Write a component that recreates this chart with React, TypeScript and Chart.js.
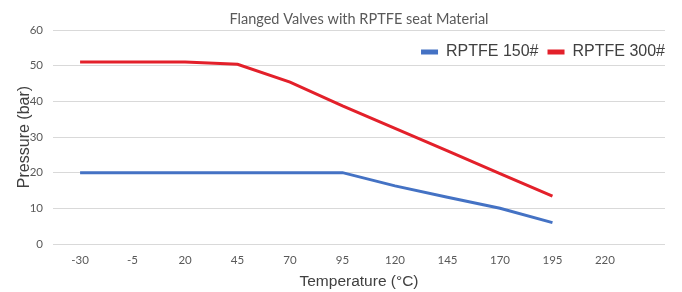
import React, { useEffect, useRef } from "react";
import { Chart, registerables } from "chart.js";

Chart.register(...registerables);

const temperatures = [-30, -5, 20, 45, 70, 95, 120, 145, 170, 195];
const xTickValues = [-30, -5, 20, 45, 70, 95, 120, 145, 170, 195, 220];
const yTickValues = [0, 10, 20, 30, 40, 50, 60];
const rptfe150 = [20, 20, 20, 20, 20, 20, 16.3, 13.1, 10, 6];
const rptfe300 = [51, 51, 51, 50.4, 45.4, 38.7, 32.4, 26.1, 19.7, 13.4];
const seriesLabels = ["RPTFE 150#", "RPTFE 300#"];
const seriesColors = ["#4472C4", "#E3202A"];

const legendPlugin = {
  id: "customLegend",
  afterDraw(chart: any) {
    const { ctx, chartArea } = chart;
    ctx.save();
    ctx.font = "16px 'Liberation Sans', Arial, sans-serif";
    ctx.textBaseline = "middle";
    ctx.textAlign = "left";
    const boxW = 17;
    const boxH = 5;
    const gap = 8;
    const itemPad = 9;
    const cy = 52;
    const items = chart.data.datasets.map((d: any) => ({
      label: d.label,
      color: d.borderColor,
      w: boxW + gap + ctx.measureText(d.label).width,
    }));
    const total = items.reduce((s: number, it: any) => s + it.w, 0) + itemPad * (items.length - 1);
    let x = chartArea.right - total;
    for (const it of items) {
      ctx.fillStyle = it.color;
      ctx.fillRect(x, cy - boxH / 2, boxW, boxH);
      ctx.fillStyle = "#404040";
      ctx.fillText(it.label, x + boxW + gap, cy);
      x += it.w + itemPad;
    }
    ctx.restore();
  },
};

export default function App() {
  const ref = useRef<HTMLCanvasElement | null>(null);
  useEffect(() => {
    document.body.style.margin = "0";
    if (!ref.current) return;
    const chart = new Chart(ref.current, {
      type: "line",
      data: {
        datasets: [
          {
            label: seriesLabels[0],
            data: temperatures.map((t, i) => ({ x: t, y: rptfe150[i] })),
            borderColor: seriesColors[0],
            backgroundColor: seriesColors[0],
            borderWidth: 3,
            pointRadius: 0,
            tension: 0,
          },
          {
            label: seriesLabels[1],
            data: temperatures.map((t, i) => ({ x: t, y: rptfe300[i] })),
            borderColor: seriesColors[1],
            backgroundColor: seriesColors[1],
            borderWidth: 3,
            pointRadius: 0,
            tension: 0,
          },
        ],
      },
      plugins: [legendPlugin],
      options: {
        animation: false,
        responsive: false,
        maintainAspectRatio: false,
        layout: { padding: { left: 0, right: 17, top: 0, bottom: 0 } },
        plugins: {
          legend: { display: false },
          tooltip: { enabled: false },
          title: {
            display: true,
            fullSize: false,
            text: "Flanged Valves with RPTFE seat Material",
            color: "#595959",
            font: { family: "Lato, 'Open Sans', sans-serif", size: 14.5, weight: "normal" },
            padding: { top: 10.3, bottom: 2.3 },
          },
        },
        scales: {
          x: {
            type: "linear",
            min: -42.9,
            max: 248.6,
            afterBuildTicks: (scale: any) => {
              scale.ticks = xTickValues.map((v) => ({ value: v }));
            },
            afterFit: (scale: any) => {
              scale.height = 48;
            },
            grid: { display: false, drawTicks: false },
            border: { display: false },
            ticks: {
              color: "#595959",
              font: { family: "Lato, 'Open Sans', sans-serif", size: 11.5 },
              padding: 9,
              maxRotation: 0,
              autoSkip: false,
            },
            title: {
              display: true,
              text: "Temperature (°C)",
              color: "#404040",
              font: { family: "'Liberation Sans', Arial, sans-serif", size: 15.5 },
              padding: { top: 0, bottom: 1 },
            },
          },
          y: {
            min: 0,
            max: 60,
            afterBuildTicks: (scale: any) => {
              scale.ticks = yTickValues.map((v) => ({ value: v }));
            },
            afterFit: (scale: any) => {
              scale.width = 53;
            },
            grid: { color: "#D9D9D9", lineWidth: 1, drawTicks: false },
            border: { display: false },
            ticks: {
              color: "#595959",
              font: { family: "Lato, 'Open Sans', sans-serif", size: 11.5 },
              padding: 10,
            },
            title: {
              display: true,
              text: "Pressure (bar)",
              color: "#404040",
              font: { family: "'Liberation Sans', Arial, sans-serif", size: 16 },
              padding: { top: 15.4, bottom: 0 },
            },
          },
        },
      },
    } as any);
    return () => chart.destroy();
  }, []);
  return (
    <div style={{ width: 682, height: 292 }}>
      <canvas ref={ref} width={682} height={292} style={{ display: "block" }} />
    </div>
  );
}
